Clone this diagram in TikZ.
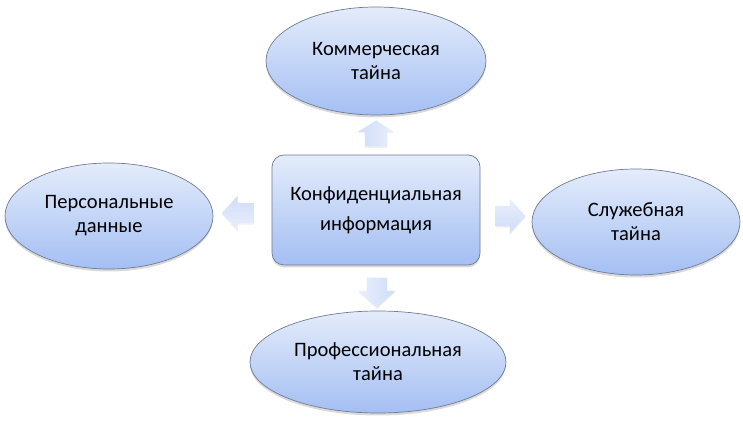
\documentclass[tikz,border=0pt]{standalone}
\usepackage{fontspec}
\setmainfont{Carlito}
\usepackage{tikz}
\usetikzlibrary{shapes.geometric, shapes.arrows, calc, shadows}
\definecolor{ovaltop}{HTML}{E4ECFB}
\definecolor{ovalbot}{HTML}{A4BFF3}
\definecolor{ovaledge}{HTML}{6F7D94}
\definecolor{arrtop}{HTML}{E9EFFC}
\definecolor{arrbot}{HTML}{D0DDF7}
\tikzset{
  oval/.style={ellipse, draw=ovaledge, line width=0.7pt, top color=ovaltop, bottom color=ovalbot, align=center, inner sep=0pt, font=\fontsize{20.5}{24}\selectfont, drop shadow={shadow xshift=0pt, shadow yshift=-2.5pt, opacity=0.3}},
  hub/.style={rectangle, draw=ovaledge, line width=0.7pt, rounded corners=12pt, top color=ovaltop, bottom color=ovalbot, align=center, minimum width=208pt, minimum height=110pt, font=\fontsize{20.5}{30}\selectfont, drop shadow={shadow xshift=0pt, shadow yshift=-2.5pt, opacity=0.3}},
  blockarrow/.style={single arrow, draw=none, top color=arrtop, bottom color=arrbot, inner xsep=0pt, inner ysep=10pt, single arrow head extend=7pt, single arrow tip angle=95, drop shadow={shadow xshift=0pt, shadow yshift=-1.5pt, opacity=0.12}},
}
\begin{document}
\begin{tikzpicture}[x=1pt, y=1pt]
  \useasboundingbox (0,0) rectangle (743,427);
  % centre block
  \node[hub] (conf) at (376,217) {Конфиденциальная\\информация};
  % kinds of secrets round it
  \node[oval, minimum width=220pt, minimum height=108pt] (kommerch) at (376,366) {Коммерческая\\тайна};
  \node[oval, minimum width=208pt, minimum height=106pt] (personal) at (109,211) {Персональные\\данные};
  \node[oval, minimum width=208pt, minimum height=106pt] (sluzh) at (636,205) {Служебная\\тайна};
  \node[oval, minimum width=256pt, minimum height=102pt] (prof) at (378,65) {Профессиональная\\тайна};
  % block arrows
  \node[blockarrow, minimum height=26pt, inner ysep=11pt, rotate=90, shading angle=-90, single arrow tip angle=115] (aUp) at ($(conf.north)!0.45!(kommerch.south)$) {};
  \node[blockarrow, minimum height=32pt, rotate=180, shading angle=180] (aLeft) at ($(conf.west)!0.5!(personal.east)$) {};
  \node[blockarrow, minimum height=30pt] (aRight) at ($(conf.east)!0.5!(sluzh.west)$) {};
  \node[blockarrow, minimum height=30pt, single arrow head extend=8pt, rotate=270, shading angle=90] (aDown) at ($(conf.south)!0.5!(prof.north)$) {};
\end{tikzpicture}
\end{document}
